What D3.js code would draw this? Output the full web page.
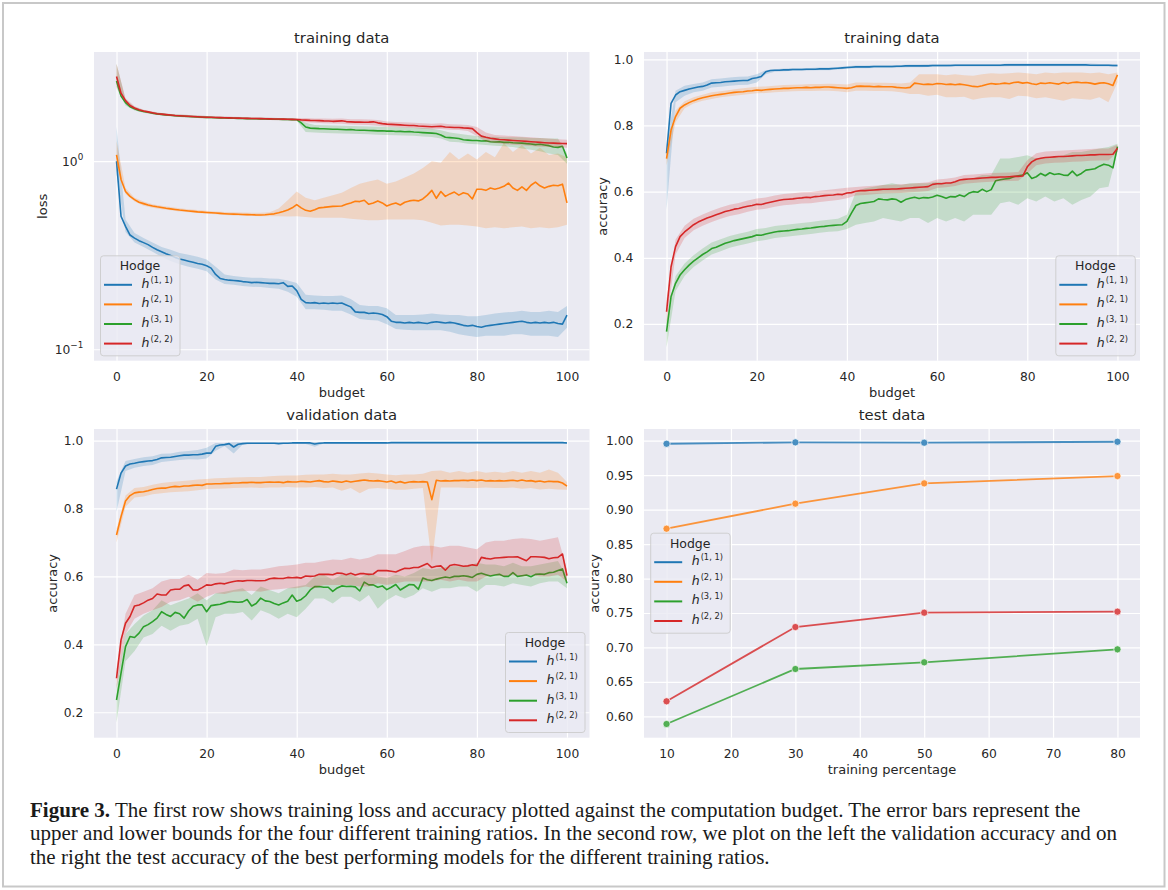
<!DOCTYPE html>
<html><head><meta charset="utf-8">
<script src="https://cdn.jsdelivr.net/npm/d3@7"></script>
<style>body{margin:0;background:#fff;} svg{display:block;}</style>
</head><body>
<script>
// ---------------- DATA ----------------
const hodgeKeys = ['h11','h21','h31','h22'];
const hodgeSup = ['(1, 1)','(2, 1)','(3, 1)','(2, 2)'];
const hodgeColors = ['#1f77b4','#ff7f0e','#2ca02c','#d62728'];

const budgets = [0,1,2,3,4,5,6,7,8,9,10,11,12,13,14,15,16,17,18,19,20,21,22,23,24,25,26,27,28,29,30,31,32,33,34,35,36,37,38,39,40,41,42,43,44,45,46,47,48,49,50,51,52,53,54,55,56,57,58,59,60,61,62,63,64,65,66,67,68,69,70,71,72,73,74,75,76,77,78,79,80,81,82,83,84,85,86,87,88,89,90,91,92,93,94,95,96,97,98,99,100];
const bandBudgets = [0,2,4,6,8,10,12,14,16,18,20,22,24,26,28,30,32,34,36,38,40,42,44,46,48,50,52,54,56,58,60,62,64,66,68,70,72,74,76,78,80,82,84,86,88,90,92,94,96,98,100];

const budgetTicks = [0,20,40,60,80,100];
const lossTicks = [0.1, 1];
const accTicks = [0.2,0.4,0.6,0.8,1.0];
const pctTicks = [10,20,30,40,50,60,70,80];
const testTicks = [0.60,0.65,0.70,0.75,0.80,0.85,0.90,0.95,1.00];

// training loss (log scale)
const lossBlue = [1.00,0.51,0.45,0.405,0.39,0.378,0.369,0.36,0.348,0.338,
0.33,0.322,0.315,0.308,0.302,0.298,0.294,0.29,0.286,0.283,
0.278,0.27,0.25,0.238,0.235,0.233,0.232,0.231,0.229,0.228,
0.226,0.227,0.226,0.225,0.224,0.224,0.223,0.226,0.216,0.217,
0.205,0.184,0.177,0.176,0.177,0.175,0.176,0.175,0.176,0.175,
0.176,0.172,0.168,0.158,0.157,0.157,0.155,0.156,0.155,0.153,
0.149,0.141,0.139,0.139,0.138,0.139,0.138,0.139,0.138,0.137,
0.139,0.14,0.139,0.138,0.139,0.138,0.136,0.134,0.133,0.134,
0.132,0.131,0.133,0.134,0.135,0.136,0.137,0.138,0.139,0.14,
0.141,0.139,0.138,0.139,0.138,0.139,0.138,0.139,0.137,0.136,
0.152];
const lossBlueLo = [0.85,0.42,0.37,0.35,0.33,0.31,0.295,0.283,0.275,0.268,
0.26,0.235,0.222,0.22,0.217,0.215,0.214,0.212,0.21,0.202,
0.19,0.163,0.163,0.162,0.16,0.16,0.153,0.145,0.143,0.142,
0.136,0.128,0.127,0.126,0.126,0.126,0.126,0.124,0.12,0.118,
0.116,0.118,0.118,0.118,0.12,0.12,0.118,0.118,0.118,0.116,
0.13];
const lossBlueHi = [1.53,0.49,0.415,0.39,0.37,0.35,0.338,0.325,0.318,0.31,
0.30,0.275,0.25,0.245,0.242,0.24,0.24,0.238,0.237,0.232,
0.225,0.195,0.193,0.192,0.192,0.193,0.185,0.172,0.17,0.17,
0.165,0.152,0.152,0.152,0.153,0.155,0.153,0.152,0.152,0.15,
0.15,0.152,0.155,0.157,0.158,0.16,0.158,0.158,0.16,0.158,
0.17];
const lossOrange = [1.08,0.80,0.69,0.65,0.625,0.605,0.595,0.585,0.578,0.572,
0.567,0.562,0.558,0.554,0.55,0.547,0.544,0.541,0.538,0.536,
0.534,0.532,0.53,0.528,0.526,0.524,0.523,0.522,0.521,0.52,
0.519,0.518,0.518,0.519,0.522,0.525,0.532,0.54,0.55,0.565,
0.588,0.565,0.548,0.542,0.552,0.565,0.568,0.572,0.575,0.576,
0.578,0.59,0.60,0.612,0.61,0.62,0.59,0.60,0.615,0.60,
0.578,0.59,0.60,0.585,0.605,0.615,0.62,0.615,0.63,0.66,
0.70,0.635,0.69,0.65,0.67,0.685,0.66,0.68,0.67,0.63,
0.71,0.71,0.70,0.72,0.71,0.72,0.735,0.765,0.72,0.70,
0.73,0.70,0.745,0.775,0.74,0.72,0.735,0.745,0.74,0.755,
0.60];
const lossOrangeLo = [0.95,0.67,0.61,0.58,0.565,0.555,0.548,0.54,0.535,0.53,
0.525,0.522,0.518,0.515,0.513,0.512,0.51,0.51,0.51,0.508,
0.51,0.505,0.50,0.50,0.50,0.50,0.495,0.49,0.485,0.485,
0.49,0.49,0.49,0.49,0.485,0.47,0.455,0.46,0.46,0.455,
0.45,0.44,0.445,0.44,0.445,0.45,0.44,0.445,0.44,0.445,
0.46];
const lossOrangeHi = [1.28,0.72,0.64,0.61,0.59,0.58,0.57,0.562,0.555,0.55,
0.545,0.54,0.537,0.535,0.533,0.532,0.532,0.535,0.56,0.62,
0.69,0.64,0.62,0.64,0.66,0.68,0.72,0.76,0.78,0.80,
0.76,0.78,0.82,0.86,0.92,1.00,0.98,1.12,1.02,1.10,
1.02,1.12,1.05,1.25,1.12,1.22,1.10,1.18,1.08,1.10,
1.05];
const lossGreen = [2.67,2.22,2.05,1.95,1.90,1.86,1.84,1.82,1.80,1.785,
1.775,1.765,1.755,1.745,1.74,1.735,1.73,1.725,1.72,1.715,
1.71,1.707,1.703,1.70,1.697,1.695,1.692,1.69,1.687,1.685,
1.683,1.681,1.679,1.677,1.675,1.673,1.671,1.669,1.667,1.665,
1.663,1.60,1.52,1.50,1.495,1.49,1.488,1.485,1.48,1.478,
1.475,1.47,1.475,1.465,1.46,1.462,1.458,1.455,1.45,1.452,
1.445,1.448,1.44,1.442,1.435,1.44,1.43,1.425,1.42,1.415,
1.41,1.405,1.38,1.34,1.335,1.33,1.32,1.30,1.295,1.29,
1.29,1.28,1.285,1.27,1.265,1.27,1.26,1.262,1.255,1.25,
1.248,1.24,1.235,1.225,1.23,1.22,1.21,1.19,1.185,1.20,
1.04];
const lossGreenLo = [2.45,1.98,1.86,1.81,1.78,1.75,1.735,1.72,1.71,1.70,
1.69,1.685,1.68,1.675,1.67,1.665,1.66,1.655,1.65,1.648,
1.64,1.43,1.42,1.415,1.41,1.405,1.40,1.395,1.39,1.385,
1.38,1.375,1.37,1.365,1.355,1.345,1.32,1.27,1.26,1.24,
1.23,1.22,1.21,1.20,1.19,1.17,1.15,1.13,1.10,1.08,
0.97];
const lossGreenHi = [3.3,2.12,1.94,1.87,1.83,1.80,1.785,1.77,1.76,1.75,
1.74,1.732,1.725,1.72,1.715,1.71,1.706,1.702,1.698,1.694,
1.69,1.60,1.56,1.555,1.55,1.545,1.54,1.535,1.53,1.525,
1.52,1.515,1.51,1.505,1.50,1.49,1.46,1.42,1.40,1.38,
1.36,1.35,1.35,1.34,1.34,1.34,1.33,1.33,1.32,1.32,
1.10];
const lossRed = [2.82,2.30,2.10,1.98,1.92,1.88,1.85,1.83,1.81,1.79,
1.78,1.77,1.76,1.75,1.745,1.74,1.735,1.73,1.725,1.72,
1.715,1.712,1.708,1.705,1.702,1.70,1.697,1.695,1.692,1.69,
1.688,1.686,1.684,1.682,1.68,1.678,1.676,1.674,1.672,1.67,
1.668,1.66,1.655,1.65,1.648,1.645,1.64,1.638,1.63,1.635,
1.64,1.625,1.62,1.615,1.618,1.612,1.615,1.62,1.60,1.585,
1.575,1.57,1.565,1.56,1.555,1.55,1.548,1.54,1.535,1.53,
1.525,1.53,1.535,1.52,1.515,1.51,1.512,1.505,1.50,1.49,
1.42,1.36,1.34,1.325,1.315,1.305,1.30,1.295,1.29,1.285,
1.28,1.275,1.27,1.265,1.26,1.255,1.25,1.248,1.245,1.242,
1.24];
const lossRedLo = [2.5,2.05,1.88,1.82,1.78,1.755,1.735,1.72,1.71,1.70,
1.69,1.685,1.68,1.675,1.67,1.665,1.66,1.655,1.652,1.648,
1.64,1.61,1.60,1.59,1.585,1.58,1.57,1.565,1.56,1.545,
1.525,1.515,1.505,1.50,1.49,1.48,1.485,1.47,1.465,1.45,
1.36,1.27,1.25,1.235,1.225,1.215,1.205,1.195,1.19,1.185,
1.18];
const lossRedHi = [3.3,2.16,1.96,1.88,1.84,1.805,1.785,1.77,1.76,1.75,
1.74,1.732,1.727,1.722,1.717,1.712,1.708,1.705,1.70,1.697,
1.695,1.70,1.69,1.685,1.68,1.685,1.67,1.67,1.665,1.655,
1.625,1.615,1.61,1.60,1.59,1.58,1.59,1.575,1.57,1.56,
1.52,1.42,1.38,1.37,1.36,1.35,1.34,1.33,1.32,1.31,
1.30];

// training accuracy
const accBlue = [0.716,0.867,0.892,0.902,0.906,0.91,0.913,0.916,0.918,0.922,
0.928,0.929,0.93,0.932,0.933,0.934,0.935,0.936,0.936,0.942,
0.944,0.948,0.962,0.966,0.967,0.967,0.968,0.968,0.969,0.969,
0.969,0.97,0.97,0.97,0.971,0.971,0.971,0.972,0.973,0.974,
0.975,0.976,0.977,0.977,0.977,0.977,0.978,0.978,0.978,0.978,
0.978,0.979,0.979,0.98,0.98,0.98,0.98,0.98,0.98,0.981,
0.981,0.981,0.981,0.981,0.982,0.982,0.982,0.982,0.982,0.982,
0.982,0.982,0.982,0.982,0.982,0.983,0.983,0.983,0.983,0.983,
0.983,0.983,0.983,0.983,0.983,0.983,0.983,0.983,0.983,0.983,
0.983,0.983,0.983,0.983,0.982,0.982,0.982,0.982,0.982,0.981,
0.981];
const accBlueLo = [0.545,0.87,0.89,0.90,0.905,0.915,0.917,0.92,0.922,0.923,
0.93,0.955,0.962,0.964,0.965,0.965,0.966,0.967,0.967,0.969,
0.971,0.973,0.973,0.974,0.974,0.974,0.975,0.976,0.976,0.977,
0.977,0.977,0.978,0.978,0.978,0.978,0.978,0.978,0.979,0.979,
0.979,0.979,0.979,0.979,0.979,0.979,0.979,0.979,0.978,0.978,
0.977];
const accBlueHi = [0.74,0.905,0.92,0.925,0.93,0.94,0.942,0.945,0.947,0.948,
0.955,0.967,0.97,0.972,0.973,0.973,0.974,0.975,0.975,0.977,
0.979,0.981,0.981,0.982,0.982,0.982,0.983,0.984,0.984,0.985,
0.985,0.985,0.986,0.986,0.986,0.986,0.986,0.986,0.987,0.987,
0.987,0.987,0.987,0.987,0.987,0.987,0.987,0.987,0.986,0.986,
0.985];
const accOrange = [0.70,0.786,0.827,0.852,0.862,0.869,0.875,0.88,0.884,0.887,
0.89,0.892,0.894,0.896,0.898,0.90,0.901,0.902,0.904,0.905,
0.907,0.906,0.908,0.909,0.91,0.911,0.912,0.912,0.913,0.914,
0.914,0.915,0.914,0.915,0.915,0.916,0.916,0.915,0.914,0.913,
0.912,0.914,0.918,0.919,0.918,0.918,0.917,0.918,0.917,0.917,
0.917,0.915,0.914,0.913,0.915,0.928,0.926,0.924,0.925,0.924,
0.927,0.926,0.924,0.925,0.923,0.925,0.923,0.921,0.918,0.917,
0.92,0.924,0.927,0.925,0.926,0.928,0.926,0.93,0.931,0.928,
0.93,0.926,0.924,0.928,0.927,0.929,0.927,0.925,0.93,0.927,
0.93,0.931,0.929,0.93,0.928,0.925,0.928,0.929,0.926,0.921,
0.953];
const accOrangeLo = [0.68,0.81,0.852,0.866,0.875,0.88,0.885,0.888,0.891,0.894,
0.897,0.898,0.9,0.902,0.903,0.904,0.904,0.905,0.905,0.903,
0.9,0.905,0.905,0.904,0.904,0.903,0.9,0.895,0.895,0.89,
0.893,0.885,0.885,0.887,0.878,0.883,0.885,0.885,0.88,0.89,
0.888,0.882,0.885,0.88,0.875,0.882,0.88,0.878,0.885,0.87,
0.93];
const accOrangeHi = [0.72,0.845,0.873,0.885,0.893,0.9,0.903,0.907,0.911,0.914,
0.917,0.918,0.92,0.922,0.923,0.924,0.925,0.925,0.926,0.925,
0.924,0.93,0.93,0.929,0.929,0.928,0.927,0.93,0.955,0.955,
0.955,0.952,0.955,0.952,0.95,0.955,0.958,0.956,0.958,0.96,
0.958,0.955,0.96,0.958,0.96,0.96,0.96,0.958,0.96,0.955,
0.96];
const accGreen = [0.177,0.283,0.323,0.348,0.364,0.378,0.39,0.40,0.41,0.418,
0.428,0.432,0.438,0.444,0.448,0.452,0.455,0.458,0.461,0.464,
0.469,0.468,0.472,0.475,0.478,0.48,0.481,0.482,0.484,0.486,
0.487,0.489,0.49,0.492,0.494,0.495,0.497,0.498,0.499,0.50,
0.51,0.535,0.558,0.564,0.566,0.568,0.57,0.578,0.576,0.575,
0.578,0.576,0.568,0.576,0.58,0.583,0.579,0.582,0.581,0.584,
0.589,0.585,0.58,0.585,0.584,0.59,0.585,0.595,0.60,0.598,
0.607,0.60,0.606,0.633,0.636,0.638,0.64,0.645,0.648,0.65,
0.657,0.64,0.645,0.655,0.648,0.657,0.652,0.654,0.65,0.649,
0.662,0.648,0.655,0.665,0.667,0.669,0.677,0.683,0.68,0.672,
0.736];
const accGreenLo = [0.13,0.30,0.345,0.372,0.392,0.41,0.42,0.43,0.437,0.443,
0.45,0.454,0.46,0.463,0.466,0.469,0.472,0.476,0.479,0.48,
0.487,0.50,0.505,0.51,0.52,0.515,0.51,0.52,0.52,0.505,
0.52,0.51,0.52,0.51,0.53,0.53,0.53,0.565,0.57,0.56,
0.58,0.57,0.585,0.57,0.58,0.56,0.575,0.585,0.61,0.615,
0.72];
const accGreenHi = [0.21,0.345,0.383,0.408,0.428,0.446,0.456,0.466,0.473,0.479,
0.487,0.49,0.496,0.499,0.502,0.505,0.508,0.512,0.515,0.518,
0.53,0.60,0.61,0.615,0.62,0.625,0.62,0.625,0.625,0.625,
0.63,0.625,0.63,0.635,0.64,0.65,0.65,0.70,0.70,0.705,
0.71,0.70,0.705,0.705,0.71,0.72,0.72,0.725,0.73,0.735,
0.745];
const accRed = [0.237,0.373,0.434,0.464,0.478,0.489,0.50,0.508,0.514,0.52,
0.525,0.53,0.535,0.54,0.543,0.547,0.549,0.553,0.556,0.558,
0.562,0.561,0.565,0.568,0.571,0.574,0.576,0.577,0.578,0.58,
0.581,0.583,0.582,0.585,0.586,0.588,0.589,0.59,0.592,0.591,
0.596,0.597,0.601,0.603,0.603,0.604,0.605,0.606,0.607,0.607,
0.608,0.608,0.609,0.61,0.611,0.612,0.613,0.614,0.615,0.622,
0.624,0.624,0.626,0.626,0.63,0.635,0.637,0.638,0.639,0.64,
0.641,0.642,0.643,0.643,0.644,0.644,0.645,0.646,0.646,0.647,
0.675,0.69,0.698,0.701,0.703,0.704,0.705,0.706,0.706,0.707,
0.708,0.709,0.709,0.71,0.711,0.711,0.712,0.712,0.712,0.713,
0.731];
const accRedLo = [0.20,0.41,0.46,0.483,0.497,0.508,0.518,0.526,0.532,0.539,
0.545,0.548,0.554,0.559,0.561,0.564,0.565,0.569,0.572,0.575,
0.58,0.588,0.59,0.592,0.594,0.595,0.596,0.598,0.6,0.602,
0.611,0.613,0.617,0.624,0.626,0.628,0.63,0.631,0.632,0.633,
0.655,0.68,0.685,0.687,0.688,0.69,0.691,0.693,0.694,0.694,
0.72];
const accRedHi = [0.275,0.455,0.497,0.518,0.531,0.542,0.552,0.56,0.566,0.573,
0.579,0.582,0.588,0.593,0.595,0.598,0.599,0.603,0.606,0.609,
0.612,0.614,0.616,0.618,0.62,0.621,0.622,0.624,0.626,0.628,
0.637,0.639,0.643,0.65,0.652,0.654,0.656,0.657,0.658,0.659,
0.695,0.716,0.721,0.723,0.724,0.726,0.727,0.729,0.73,0.73,
0.742];

// validation accuracy
const valBlue = [0.857,0.904,0.925,0.931,0.933,0.936,0.938,0.94,0.941,0.944,
0.949,0.95,0.951,0.953,0.955,0.957,0.957,0.958,0.958,0.96,
0.963,0.963,0.983,0.987,0.988,0.991,0.981,0.989,0.991,0.992,
0.992,0.992,0.992,0.992,0.992,0.992,0.991,0.992,0.992,0.993,
0.993,0.993,0.993,0.993,0.99,0.992,0.993,0.993,0.993,0.993,
0.993,0.993,0.993,0.993,0.993,0.993,0.993,0.993,0.993,0.993,
0.993,0.994,0.994,0.994,0.994,0.994,0.994,0.994,0.994,0.994,
0.994,0.994,0.994,0.994,0.994,0.994,0.994,0.994,0.994,0.994,
0.994,0.994,0.994,0.994,0.994,0.994,0.994,0.994,0.994,0.994,
0.994,0.994,0.994,0.994,0.994,0.994,0.994,0.994,0.994,0.994,
0.993];
const valBlueLo = [0.79,0.91,0.92,0.925,0.928,0.937,0.94,0.943,0.945,0.944,
0.947,0.97,0.984,0.962,0.988,0.99,0.99,0.99,0.99,0.99,
0.99,0.99,0.982,0.991,0.991,0.991,0.991,0.991,0.991,0.991,
0.991,0.991,0.991,0.991,0.991,0.991,0.991,0.991,0.991,0.991,
0.991,0.991,0.991,0.991,0.991,0.991,0.991,0.991,0.991,0.991,
0.991];
const valBlueHi = [0.88,0.94,0.946,0.951,0.954,0.961,0.962,0.967,0.969,0.972,
0.979,0.993,0.993,0.995,0.995,0.995,0.995,0.995,0.995,0.995,
0.995,0.995,0.996,0.996,0.996,0.996,0.996,0.996,0.996,0.996,
0.996,0.996,0.996,0.996,0.996,0.996,0.996,0.996,0.996,0.996,
0.996,0.996,0.996,0.996,0.996,0.996,0.996,0.996,0.996,0.996,
0.996];
const valOrange = [0.722,0.776,0.822,0.838,0.846,0.848,0.849,0.852,0.856,0.859,
0.86,0.86,0.863,0.865,0.864,0.866,0.866,0.868,0.869,0.868,
0.872,0.872,0.873,0.873,0.874,0.874,0.875,0.875,0.876,0.876,
0.877,0.876,0.876,0.877,0.878,0.877,0.878,0.876,0.879,0.878,
0.878,0.88,0.879,0.878,0.88,0.882,0.879,0.878,0.881,0.879,
0.877,0.881,0.878,0.88,0.882,0.884,0.882,0.881,0.882,0.88,
0.878,0.881,0.876,0.879,0.875,0.878,0.879,0.878,0.879,0.878,
0.826,0.883,0.881,0.882,0.881,0.882,0.882,0.883,0.882,0.884,
0.882,0.884,0.881,0.882,0.881,0.882,0.881,0.882,0.883,0.881,
0.884,0.881,0.882,0.879,0.881,0.878,0.88,0.879,0.879,0.875,
0.866];
const valOrangeLo = [0.70,0.805,0.832,0.835,0.842,0.845,0.848,0.849,0.851,0.854,
0.857,0.858,0.859,0.86,0.861,0.862,0.86,0.862,0.862,0.863,
0.862,0.862,0.863,0.86,0.862,0.852,0.86,0.845,0.858,0.86,
0.858,0.855,0.855,0.858,0.86,0.64,0.862,0.862,0.862,0.86,
0.86,0.862,0.86,0.86,0.862,0.858,0.86,0.856,0.858,0.856,
0.855];
const valOrangeHi = [0.74,0.838,0.86,0.863,0.87,0.875,0.878,0.88,0.882,0.885,
0.887,0.889,0.89,0.891,0.892,0.893,0.893,0.895,0.896,0.897,
0.897,0.899,0.9,0.9,0.902,0.9,0.9,0.903,0.905,0.903,
0.9,0.898,0.9,0.9,0.902,0.91,0.912,0.905,0.91,0.905,
0.91,0.905,0.908,0.905,0.91,0.905,0.91,0.905,0.915,0.905,
0.878];
const valGreen = [0.236,0.315,0.393,0.423,0.42,0.433,0.452,0.458,0.467,0.477,
0.496,0.488,0.482,0.494,0.49,0.477,0.498,0.512,0.516,0.516,
0.496,0.514,0.516,0.518,0.522,0.526,0.525,0.524,0.525,0.532,
0.513,0.52,0.536,0.528,0.526,0.52,0.516,0.522,0.527,0.545,
0.527,0.532,0.543,0.56,0.57,0.57,0.568,0.568,0.556,0.566,
0.572,0.57,0.571,0.569,0.557,0.583,0.575,0.575,0.568,0.572,
0.561,0.568,0.576,0.56,0.568,0.576,0.575,0.562,0.595,0.59,
0.588,0.592,0.595,0.598,0.596,0.6,0.6,0.602,0.6,0.597,
0.606,0.609,0.605,0.601,0.604,0.606,0.6,0.6,0.611,0.6,
0.602,0.604,0.599,0.606,0.607,0.606,0.611,0.612,0.617,0.622,
0.58];
const valGreenLo = [0.17,0.35,0.38,0.42,0.43,0.455,0.44,0.455,0.46,0.475,
0.395,0.48,0.49,0.49,0.495,0.47,0.5,0.49,0.475,0.49,
0.48,0.505,0.535,0.535,0.52,0.54,0.54,0.525,0.545,0.505,
0.53,0.545,0.535,0.545,0.565,0.555,0.565,0.565,0.57,0.57,
0.555,0.575,0.575,0.57,0.58,0.575,0.57,0.58,0.585,0.585,
0.565];
const valGreenHi = [0.28,0.43,0.46,0.485,0.5,0.53,0.515,0.525,0.535,0.55,
0.53,0.55,0.555,0.56,0.565,0.545,0.57,0.56,0.55,0.565,
0.57,0.575,0.6,0.605,0.59,0.605,0.605,0.595,0.61,0.6,
0.595,0.605,0.6,0.61,0.625,0.62,0.625,0.63,0.63,0.63,
0.64,0.635,0.635,0.63,0.64,0.63,0.63,0.635,0.64,0.645,
0.6];
const valRed = [0.30,0.413,0.462,0.482,0.513,0.516,0.522,0.53,0.535,0.548,
0.545,0.545,0.56,0.562,0.562,0.572,0.575,0.56,0.56,0.567,
0.575,0.574,0.578,0.58,0.578,0.582,0.585,0.587,0.586,0.588,
0.588,0.587,0.587,0.588,0.593,0.595,0.594,0.594,0.597,0.596,
0.597,0.595,0.601,0.6,0.601,0.606,0.606,0.606,0.605,0.61,
0.609,0.605,0.609,0.604,0.608,0.608,0.606,0.607,0.617,0.617,
0.617,0.615,0.613,0.619,0.624,0.623,0.626,0.626,0.632,0.638,
0.626,0.63,0.631,0.618,0.632,0.635,0.633,0.63,0.631,0.634,
0.632,0.656,0.653,0.651,0.654,0.655,0.656,0.657,0.657,0.658,
0.652,0.646,0.658,0.658,0.657,0.656,0.652,0.655,0.656,0.666,
0.602];
const valRedLo = [0.27,0.43,0.475,0.49,0.50,0.51,0.525,0.53,0.54,0.525,
0.54,0.55,0.548,0.555,0.556,0.558,0.555,0.56,0.562,0.565,
0.565,0.57,0.565,0.575,0.575,0.575,0.575,0.57,0.57,0.58,
0.575,0.58,0.585,0.585,0.585,0.585,0.59,0.585,0.59,0.585,
0.585,0.6,0.605,0.6,0.605,0.6,0.605,0.6,0.6,0.605,
0.585];
const valRedHi = [0.33,0.49,0.545,0.555,0.565,0.585,0.592,0.592,0.605,0.59,
0.61,0.608,0.61,0.62,0.618,0.62,0.62,0.625,0.63,0.632,
0.635,0.64,0.64,0.645,0.65,0.648,0.655,0.65,0.655,0.665,
0.665,0.665,0.675,0.685,0.69,0.69,0.685,0.69,0.69,0.685,
0.68,0.7,0.705,0.705,0.71,0.712,0.71,0.705,0.71,0.715,
0.62];

// test accuracy
const trainingPct = [10,30,50,80];
const testBlue = [0.9956,0.9976,0.9971,0.9985];
const testOrange = [0.8723,0.9086,0.9381,0.9487];
const testGreen = [0.5889,0.6687,0.6784,0.6972];
const testRed = [0.6218,0.7296,0.7504,0.7519];

// ---------------- DRAWING ----------------
const W = 1168, H = 890;
const FONT = '"DejaVu Sans", Verdana, sans-serif';
const TXT = '#262626';
const BG = '#EAEAF2';

const svg = d3.select('body').append('svg').attr('width', W).attr('height', H);
svg.append('rect').attr('width', W).attr('height', H).attr('fill', '#fff');
svg.append('rect').attr('x', 3).attr('y', 3).attr('width', 1161.5).attr('height', 883.5)
  .attr('fill', 'none').attr('stroke', '#c8c8c8').attr('stroke-width', 2);

const defs = svg.append('defs');

function pack(mean, lo, hi) {
  return {
    line: budgets.map((b, i) => ({x: b, y: mean[i]})),
    band: bandBudgets.map((b, i) => ({x: b, lo: lo[i], hi: hi[i]}))
  };
}

function styleAxisText(sel) {
  sel.attr('font-family', FONT).attr('font-size', 12.3);
  sel.selectAll('text').attr('fill', TXT);
  sel.select('.domain').remove();
  sel.selectAll('.tick line').attr('stroke', '#ffffff').attr('stroke-width', 1.2);
}

function drawPanel(cfg) {
  const {L, R, T, B, x, y} = cfg;
  const g = svg.append('g');
  g.append('rect').attr('x', L).attr('y', T).attr('width', R - L).attr('height', B - T).attr('fill', BG);

  const xAxis = d3.axisBottom(x).tickValues(cfg.xTicks).tickSize(-(B - T)).tickPadding(11.5)
    .tickFormat(d3.format('d'));
  const gx = g.append('g').attr('transform', `translate(0,${B})`).call(xAxis);
  styleAxisText(gx);

  const yAxis = d3.axisLeft(y).tickValues(cfg.yTicks).tickSize(-(R - L)).tickPadding(10.7)
    .tickFormat(cfg.yLog ? () => '' : d3.format(cfg.yFmt));
  const gy = g.append('g').attr('transform', `translate(${L},0)`).call(yAxis);
  styleAxisText(gy);
  if (cfg.yLog) {
    gy.selectAll('.tick text').each(function(d) {
      const t = d3.select(this);
      const e = Math.round(Math.log10(d));
      t.text('10');
      t.append('tspan').attr('dy', -5.5).attr('font-size', 8.8).text(e < 0 ? '\u2212' + (-e) : String(e));
    });
  }

  // title & labels
  g.append('text').attr('x', (L + R) / 2).attr('y', T - 14.7 + 5.3).attr('text-anchor', 'middle')
    .attr('font-family', FONT).attr('font-size', 14.8).attr('fill', TXT).text(cfg.title);
  g.append('text').attr('x', (L + R) / 2).attr('y', B + 32 + 4.7).attr('text-anchor', 'middle')
    .attr('font-family', FONT).attr('font-size', 13).attr('fill', TXT).text(cfg.xLabel);
  g.append('text').attr('transform', `translate(${cfg.yLabelX + 4.7},${(T + B) / 2}) rotate(-90)`)
    .attr('text-anchor', 'middle').attr('font-family', FONT).attr('font-size', 13).attr('fill', TXT).text(cfg.yLabel);

  const cid = 'clip-' + cfg.id;
  defs.append('clipPath').attr('id', cid).append('rect').attr('x', L).attr('y', T).attr('width', R - L).attr('height', B - T);
  const content = g.append('g').attr('clip-path', `url(#${cid})`);
  return {g, content};
}

function drawBands(content, x, y, series) {
  const area = d3.area().x(d => x(d.x)).y0(d => y(d.lo)).y1(d => y(d.hi));
  const line = d3.line().x(d => x(d.x)).y(d => y(d.y));
  series.forEach((s, i) => {
    content.append('path').attr('d', area(s.band)).attr('fill', hodgeColors[i]).attr('fill-opacity', 0.2).attr('stroke', 'none');
    content.append('path').attr('d', line(s.line)).attr('fill', 'none').attr('stroke', hodgeColors[i])
      .attr('stroke-width', 1.6).attr('stroke-linejoin', 'round');
  });
}

function drawLegend(lx, ly) {
  const g = svg.append('g').attr('transform', `translate(${lx},${ly})`);
  g.append('rect').attr('x', 0.5).attr('y', 0.5).attr('width', 79.5).attr('height', 100).attr('rx', 3)
    .attr('fill', BG).attr('fill-opacity', 0.8).attr('stroke', '#cccccc').attr('stroke-opacity', 0.9);
  g.append('text').attr('x', 40).attr('y', 15.2).attr('text-anchor', 'middle').attr('font-family', FONT)
    .attr('font-size', 12.5).attr('fill', TXT).text('Hodge');
  hodgeKeys.forEach((k, i) => {
    const yy = 29.5 + i * 19.6;
    g.append('line').attr('x1', 4).attr('x2', 32).attr('y1', yy).attr('y2', yy)
      .attr('stroke', hodgeColors[i]).attr('stroke-width', 2);
    const t = g.append('text').attr('x', 41.5).attr('y', yy + 3).attr('font-family', FONT).attr('fill', TXT).attr('font-size', 12.5);
    t.append('tspan').attr('font-style', 'italic').text('h');
    t.append('tspan').attr('dx', 1).attr('dy', -5).attr('font-size', 8.3).text(hodgeSup[i]);
  });
}

// Panel geometry
const LEFT = {L: 94, R: 589.5};
const RIGHT = {L: 644, R: 1140};
const TOP = {T: 52, B: 360.7};
const BOT = {T: 429, B: 737.7};

// ---- Panel 1: training loss
{
  const x = d3.scaleLinear().domain([-5, 105]).range([LEFT.L, LEFT.R]);
  const y = d3.scaleLog().domain([0.0869, 3.81]).range([TOP.B, TOP.T]);
  const p = drawPanel({id: 'p1', ...LEFT, ...TOP, x, y, xTicks: budgetTicks, yTicks: lossTicks, yLog: true,
    title: 'training data', xLabel: 'budget', yLabel: 'loss', yLabelX: 42});
  drawBands(p.content, x, y, [
    pack(lossBlue, lossBlueLo, lossBlueHi), pack(lossOrange, lossOrangeLo, lossOrangeHi),
    pack(lossGreen, lossGreenLo, lossGreenHi), pack(lossRed, lossRedLo, lossRedHi)]);
  drawLegend(100, 255.3);
}
// ---- Panel 2: training accuracy
{
  const x = d3.scaleLinear().domain([-5, 105]).range([RIGHT.L, RIGHT.R]);
  const y = d3.scaleLinear().domain([0.089, 1.022]).range([TOP.B, TOP.T]);
  const p = drawPanel({id: 'p2', ...RIGHT, ...TOP, x, y, xTicks: budgetTicks, yTicks: accTicks, yFmt: '.1f',
    title: 'training data', xLabel: 'budget', yLabel: 'accuracy', yLabelX: 602.5});
  drawBands(p.content, x, y, [
    pack(accBlue, accBlueLo, accBlueHi), pack(accOrange, accOrangeLo, accOrangeHi),
    pack(accGreen, accGreenLo, accGreenHi), pack(accRed, accRedLo, accRedHi)]);
  drawLegend(1055.3, 255.3);
}
// ---- Panel 3: validation accuracy
{
  const x = d3.scaleLinear().domain([-5, 105]).range([LEFT.L, LEFT.R]);
  const y = d3.scaleLinear().domain([0.125, 1.034]).range([BOT.B, BOT.T]);
  const p = drawPanel({id: 'p3', ...LEFT, ...BOT, x, y, xTicks: budgetTicks, yTicks: accTicks, yFmt: '.1f',
    title: 'validation data', xLabel: 'budget', yLabel: 'accuracy', yLabelX: 52});
  drawBands(p.content, x, y, [
    pack(valBlue, valBlueLo, valBlueHi), pack(valOrange, valOrangeLo, valOrangeHi),
    pack(valGreen, valGreenLo, valGreenHi), pack(valRed, valRedLo, valRedHi)]);
  drawLegend(505, 632);
}
// ---- Panel 4: test accuracy
{
  const x = d3.scaleLinear().domain([6.5, 83.5]).range([RIGHT.L, RIGHT.R]);
  const y = d3.scaleLinear().domain([0.569, 1.017]).range([BOT.B, BOT.T]);
  const p = drawPanel({id: 'p4', ...RIGHT, ...BOT, x, y, xTicks: pctTicks, yTicks: testTicks, yFmt: '.2f',
    title: 'test data', xLabel: 'training percentage', yLabel: 'accuracy', yLabelX: 594.5});
  const tests = [testBlue, testOrange, testGreen, testRed];
  const line = d3.line().x(d => x(d.x)).y(d => y(d.y));
  tests.forEach((vals, i) => {
    const pts = trainingPct.map((t, j) => ({x: t, y: vals[j]}));
    const sg = p.content.append('g').attr('opacity', 0.8);
    sg.append('path').attr('d', line(pts)).attr('fill', 'none').attr('stroke', hodgeColors[i]).attr('stroke-width', 1.8);
    sg.selectAll('circle').data(pts).join('circle').attr('cx', d => x(d.x)).attr('cy', d => y(d.y)).attr('r', 3.6)
      .attr('fill', hodgeColors[i]).attr('stroke', '#fff').attr('stroke-width', 0.7);
  });
  drawLegend(650.2, 532.7);
}

// ---- Caption
const capLines = [
  [{b: true, t: 'Figure 3.'}, {b: false, t: ' The first row shows training loss and accuracy plotted against the computation budget. The error bars represent the'}],
  [{b: false, t: 'upper and lower bounds for the four different training ratios. In the second row, we plot on the left the validation accuracy and on'}],
  [{b: false, t: 'the right the test accuracy of the best performing models for the different training ratios.'}]
];
const capY = [816.5, 840, 863.5];
capLines.forEach((parts, i) => {
  const t = svg.append('text').attr('x', 30).attr('y', capY[i]).attr('font-family', '"Liberation Serif", "Times New Roman", serif')
    .attr('font-size', 21).attr('fill', '#1a1a1a');
  parts.forEach(p => t.append('tspan').attr('font-weight', p.b ? 'bold' : 'normal').text(p.t));
});
</script>
</body></html>
